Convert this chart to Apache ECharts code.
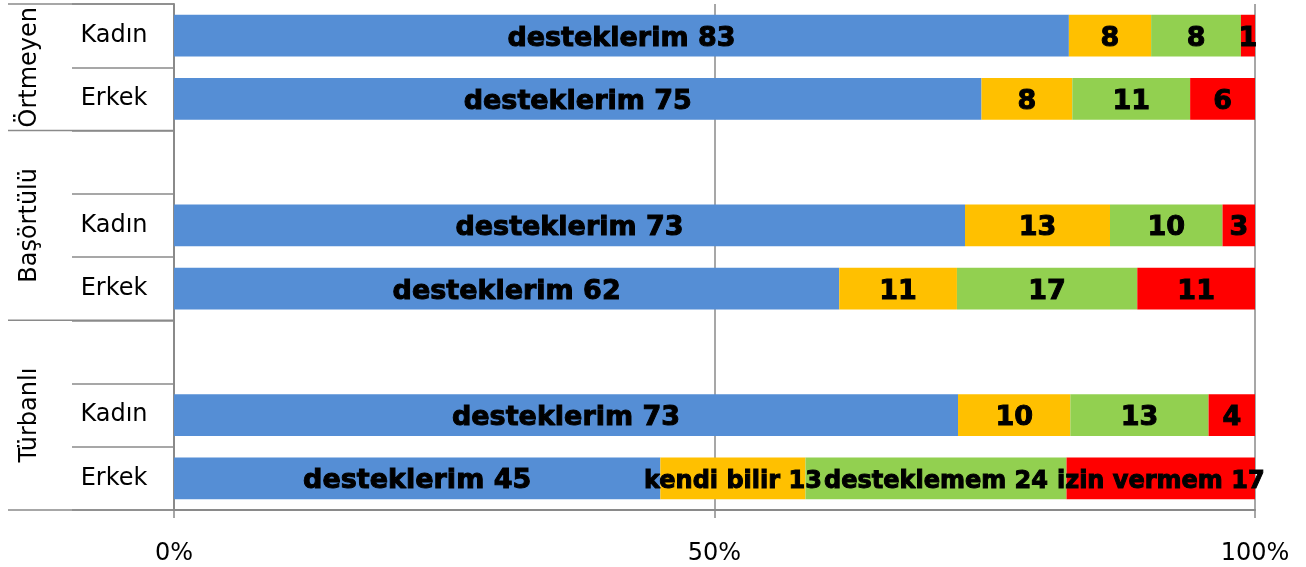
<!DOCTYPE html>
<html>
<head>
<meta charset="utf-8">
<script src="https://cdn.jsdelivr.net/npm/echarts@6/dist/echarts.min.js"></script>
<style>
html,body{margin:0;padding:0;background:#fff;}
#chart{width:1306px;height:567px;}
</style>
</head>
<body>
<div id="chart"></div>
<script>
// ---- data ----
const rowGroups = ['Örtmeyen','Örtmeyen','Başörtülü','Başörtülü','Başörtülü','Türbanlı','Türbanlı','Türbanlı'];
const rowLabels = ['Kadın','Erkek','','Kadın','Erkek','','Kadın','Erkek'];
const seriesNames = ['desteklerim','kendi bilir','desteklemem','izin vermem'];
const desteklerim = [82.7, 74.7, null, 73.1, 61.6, null, 72.6, 44.9];
const kendiBilir  = [7.6, 8.4, null, 13.4, 10.9, null, 10.4, 13.4];
const desteklemem = [8.3, 10.9, null, 10.4, 16.7, null, 12.8, 24.1];
const izinVermem  = [1.3, 6.0, null, 3.0, 10.9, null, 4.3, 17.4];
const xTicks = [0, 50, 100];

const rawSeries = [desteklerim, kendiBilir, desteklemem, izinVermem];
const colors = ['#558ED5', '#FFC000', '#92D050', '#FF0000'];
const fullLabelRow = rowLabels.length - 1;

const rowSums = rowLabels.map((_, i) => rawSeries.reduce((s, arr) => s + (arr[i] == null ? 0 : arr[i]), 0));

const FONT = 'DejaVu Sans';
const series = rawSeries.map((arr, si) => ({
  name: seriesNames[si],
  type: 'bar',
  stack: 'total',
  barWidth: '66%',
  itemStyle: { color: colors[si] },
  label: {
    show: true,
    position: 'inside',
    color: '#000',
    fontFamily: FONT,
    fontWeight: 'bold',
    fontSize: 27,
    textBorderColor: '#000',
    textBorderWidth: 1,
    offset: [0, 3],
    formatter: function (p) {
      const raw = rawSeries[p.seriesIndex][p.dataIndex];
      if (raw == null) return '';
      const v = Math.round(raw);
      if (p.seriesIndex === 0 || p.dataIndex === fullLabelRow) return seriesNames[p.seriesIndex] + ' ' + v;
      return String(v);
    }
  },
  data: arr.map((v, i) => {
    if (v == null) return null;
    const item = { value: v / rowSums[i] * 100 };
    if (i === fullLabelRow && si > 0) item.label = { fontSize: 24 };
    return item;
  })
}));

const chart = echarts.init(document.getElementById('chart'), null, { renderer: 'canvas' });
const AXIS_COLOR = '#8a8a8a';
chart.setOption({
  animation: false,
  grid: { left: 174, right: 51, top: 4, bottom: 57, containLabel: false },
  xAxis: {
    type: 'value',
    min: xTicks[0],
    max: xTicks[xTicks.length - 1],
    interval: xTicks[1] - xTicks[0],
    axisLine: { show: true, lineStyle: { color: AXIS_COLOR, width: 2 } },
    axisTick: { show: true, length: 8, lineStyle: { color: AXIS_COLOR, width: 1.5 } },
    splitLine: { show: true, lineStyle: { color: AXIS_COLOR, width: 1.5 } },
    axisLabel: { formatter: '{value}%', color: '#000', fontFamily: FONT, fontSize: 24, margin: 32 }
  },
  yAxis: {
    type: 'category',
    inverse: true,
    data: rowLabels,
    axisLine: { show: true, lineStyle: { color: AXIS_COLOR, width: 2 } },
    axisTick: { show: true, length: 102, lineStyle: { color: AXIS_COLOR, width: 1.5 } },
    axisLabel: { align: 'center', margin: 60, color: '#000', fontFamily: FONT, fontSize: 24 }
  },
  series: series
});

// group labels and group separator lines, positioned from the category scale
const c0 = chart.convertToPixel({ yAxisIndex: 0 }, 0);
const c1 = chart.convertToPixel({ yAxisIndex: 0 }, 1);
const band = c1 - c0;
const x0 = chart.convertToPixel({ xAxisIndex: 0 }, 0);
const boundary = k => c0 - band / 2 + k * band;
const groupList = [];
rowGroups.forEach((g, i) => {
  if (!groupList.length || groupList[groupList.length - 1].name !== g) groupList.push({ name: g, start: i, end: i + 1 });
  else groupList[groupList.length - 1].end = i + 1;
});
const graphics = [];
const bounds = new Set();
groupList.forEach(g => { bounds.add(g.start); bounds.add(g.end); });
bounds.forEach(k => {
  const y = boundary(k);
  graphics.push({ type: 'line', shape: { x1: 8, y1: y, x2: x0, y2: y }, style: { stroke: AXIS_COLOR, lineWidth: 1.5 }, z: 10 });
});
groupList.forEach(g => {
  const yc = (boundary(g.start) + boundary(g.end)) / 2;
  graphics.push({
    type: 'text', x: 30, y: yc, rotation: Math.PI / 2,
    style: { text: g.name, font: '24px "DejaVu Sans"', fill: '#000', align: 'center', verticalAlign: 'middle' },
    z: 10
  });
});
chart.setOption({ graphic: graphics });
</script>
</body>
</html>
